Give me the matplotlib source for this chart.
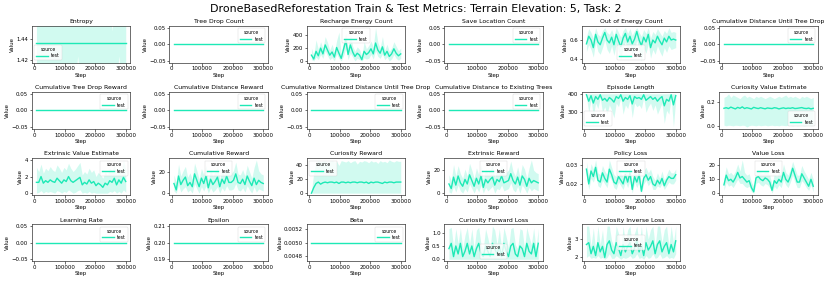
import matplotlib
matplotlib.use('Agg')
import matplotlib.pyplot as plt

# training steps (x axis)
steps = [7500, 15000, 22500, 30000, 37500, 45000, 52500, 60000, 67500, 75000,
         82500, 90000, 97500, 105000, 112500, 120000, 127500, 135000, 142500, 150000,
         157500, 165000, 172500, 180000, 187500, 195000, 202500, 210000, 217500, 225000,
         232500, 240000, 247500, 255000, 262500, 270000, 277500, 285000, 292500, 300000]
n = len(steps)

# flat metrics
zero_line = [0.0] * n
epsilon = [0.2] * n
beta = [0.005] * n

entropy = [1.436] * n
entropy_lo = [1.40, 1.40, 1.40, 1.40, 1.40, 1.40, 1.40, 1.40, 1.40, 1.40,
              1.40, 1.40, 1.40, 1.40, 1.40, 1.40, 1.40, 1.40, 1.424, 1.40,
              1.40, 1.40, 1.40, 1.40, 1.40, 1.40, 1.40, 1.40, 1.40, 1.40,
              1.40, 1.40, 1.40, 1.40, 1.40, 1.40, 1.424, 1.40, 1.40, 1.40]
entropy_hi = [1.47, 1.47, 1.47, 1.47, 1.47, 1.47, 1.47, 1.47, 1.47, 1.47,
              1.47, 1.47, 1.47, 1.47, 1.47, 1.47, 1.47, 1.47, 1.47, 1.47,
              1.47, 1.47, 1.47, 1.47, 1.47, 1.47, 1.47, 1.47, 1.47, 1.47,
              1.47, 1.47, 1.47, 1.447, 1.47, 1.47, 1.47, 1.47, 1.47, 1.47]

recharge = [90, 30, 150, 80, 200, 110, 250, 170, 90, 140, 60, 210, 120, 40, 180, 320, 100, 250, 140, 70,
            120, 90, 20, 150, 100, 130, 190, 110, 280, 170, 120, 220, 90, 150, 70, 110, 190, 120, 80, 110]
recharge_lo = [20, 0, 60, 20, 100, 40, 160, 80, 20, 50, 0, 110, 40, 0, 80, 200, 20, 120, 60, 0,
               40, 20, 0, 50, 30, 40, 100, 30, 160, 70, 40, 110, 20, 60, 0, 30, 100, 40, 10, 40]
recharge_hi = [200, 90, 330, 180, 300, 200, 380, 290, 170, 260, 140, 320, 450, 110, 300, 430, 200, 410, 230, 150,
               220, 180, 70, 300, 190, 240, 310, 220, 520, 290, 200, 380, 170, 260, 150, 200, 300, 230, 160, 200]

out_energy = [0.56, 0.64, 0.60, 0.52, 0.66, 0.58, 0.55, 0.62, 0.68, 0.60, 0.57, 0.63, 0.55, 0.66, 0.59, 0.53, 0.62, 0.67, 0.58, 0.64,
              0.56, 0.61, 0.69, 0.60, 0.54, 0.63, 0.58, 0.66, 0.52, 0.60, 0.57, 0.64, 0.59, 0.55, 0.62, 0.58, 0.64, 0.60, 0.61, 0.60]
out_energy_lo = [0.48, 0.55, 0.50, 0.42, 0.58, 0.48, 0.45, 0.52, 0.60, 0.50, 0.46, 0.54, 0.44, 0.56, 0.48, 0.40, 0.52, 0.58, 0.47, 0.55,
                 0.45, 0.50, 0.60, 0.48, 0.38, 0.52, 0.46, 0.56, 0.41, 0.50, 0.45, 0.54, 0.48, 0.43, 0.52, 0.47, 0.54, 0.50, 0.51, 0.52]
out_energy_hi = [0.64, 0.72, 0.68, 0.62, 0.73, 0.66, 0.64, 0.70, 0.73, 0.68, 0.66, 0.71, 0.64, 0.73, 0.68, 0.63, 0.70, 0.73, 0.67, 0.72,
                 0.65, 0.70, 0.73, 0.68, 0.64, 0.71, 0.67, 0.73, 0.62, 0.69, 0.66, 0.72, 0.68, 0.64, 0.70, 0.67, 0.73, 0.68, 0.69, 0.68]

episode_len = [395, 360, 390, 350, 385, 370, 395, 365, 375, 360, 380, 370, 355, 385, 375, 395, 360, 380, 370, 390,
               345, 385, 375, 380, 370, 395, 365, 375, 385, 370, 380, 360, 375, 385, 335, 370, 360, 395, 340, 390]
episode_len_lo = [380, 300, 370, 280, 350, 320, 380, 300, 330, 290, 340, 310, 270, 350, 330, 380, 290, 340, 320, 370,
                  270, 350, 330, 340, 320, 380, 300, 330, 350, 310, 340, 290, 320, 350, 240, 310, 290, 380, 220, 370]
episode_len_hi = [400, 400, 400, 400, 400, 400, 400, 400, 400, 400, 400, 400, 400, 400, 400, 400, 400, 400, 400, 400,
                  400, 400, 400, 400, 400, 400, 400, 400, 400, 400, 400, 400, 400, 400, 400, 400, 400, 400, 400, 400]

cur_value = [0.150, 0.155, 0.148, 0.160, 0.152, 0.145, 0.158, 0.150, 0.162, 0.148, 0.155, 0.150, 0.145, 0.158, 0.152, 0.148, 0.155, 0.150, 0.146, 0.153,
             0.150, 0.148, 0.155, 0.152, 0.145, 0.150, 0.154, 0.148, 0.152, 0.150, 0.155, 0.148, 0.150, 0.153, 0.156, 0.150, 0.148, 0.152, 0.145, 0.150]
cur_value_lo = [0.01, 0.005, 0.01, 0.008, 0.005, 0.01, 0.008, 0.006, 0.01, 0.008, -0.005, 0.006, 0.01, 0.008, 0.005, 0.01, 0.006, 0.008, 0.01, 0.005,
                0.008, 0.01, 0.006, 0.008, 0.005, 0.01, 0.008, 0.006, 0.01, 0.008, 0.005, 0.01, 0.006, 0.008, 0.01, 0.005, 0.008, 0.01, 0.006, 0.01]
cur_value_hi = [0.24, 0.25, 0.27, 0.24, 0.26, 0.25, 0.24, 0.23, 0.25, 0.26, 0.24, 0.25, 0.24, 0.23, 0.25, 0.24, 0.25, 0.24, 0.23, 0.24,
                0.25, 0.24, 0.23, 0.24, 0.25, 0.24, 0.25, 0.26, 0.24, 0.25, 0.24, 0.25, 0.24, 0.23, 0.25, 0.24, 0.25, 0.24, 0.23, 0.24]

ext_value = [1.3, 1.3, 2.0, 1.2, 1.5, 1.3, 1.6, 1.4, 1.3, 1.8, 1.5, 1.2, 1.6, 1.4, 2.0, 1.5, 1.3, 1.5, 1.7, 1.9,
             1.0, 1.3, 1.1, 1.6, 1.2, 1.4, 0.9, 1.2, 1.0, 0.7, 1.2, 1.0, 1.5, 1.3, 1.8, 1.0, 1.6, 1.2, 1.9, 1.4]
ext_value_lo = [0.0, 0.1, 0.3, 0.0, 0.2, 0.1, 0.2, 0.1, 0.0, 0.3, 0.2, 0.0, 0.2, 0.1, 0.4, 0.2, 0.0, 0.1, 0.3, 0.4,
                0.0, 0.1, 0.0, 0.2, 0.0, 0.1, 0.0, 0.0, 0.0, 0.0, 0.0, 0.0, 0.2, 0.1, 0.3, 0.0, 0.2, 0.0, 0.4, 0.1]
ext_value_hi = [3.1, 2.6, 3.5, 2.4, 3.0, 2.7, 3.2, 2.8, 2.6, 3.4, 3.0, 2.5, 3.1, 2.8, 3.6, 3.0, 2.6, 2.9, 3.3, 3.7,
                2.2, 2.6, 2.3, 3.0, 2.5, 2.8, 2.0, 2.5, 2.2, 1.8, 2.6, 2.2, 3.0, 2.7, 3.4, 2.2, 3.1, 2.5, 4.0, 2.8]

cum_reward = [9, 3, 16, 8, 12, 15, 7, 10, 6, 18, 12, 6, 14, 9, 16, 5, 13, 8, 11, 15,
              6, 13, 9, 16, 10, 10, 12, 18, 10, 9, 13, 8, 16, 11, 7, 14, 8, 12, 10, 9]
cum_reward_lo = [2, 0, 8, 1, 4, 6, 1, 3, 0, 9, 4, 0, 6, 2, 7, 0, 5, 1, 3, 6,
                 0, 5, 2, 7, 3, 3, 4, 9, 3, 2, 5, 1, 7, 3, 0, 6, 1, 4, 3, 2]
cum_reward_hi = [17, 10, 27, 16, 21, 25, 15, 19, 13, 28, 21, 13, 23, 17, 26, 12, 22, 16, 20, 25,
                 13, 22, 17, 26, 18, 18, 21, 29, 18, 17, 22, 16, 26, 20, 14, 24, 31, 21, 18, 17]

cur_reward = [0, 8, 14, 16, 13, 15, 16, 15, 16, 16, 15, 16, 14, 16, 16, 15, 16, 15, 16, 16,
              15, 16, 16, 15, 16, 14, 16, 15, 16, 16, 15, 14, 16, 15, 16, 16, 15, 16, 16, 16]
cur_reward_lo = [0, 0, 0, 0, 0, 0, 0, 0, 0, 0, 0, 0, 0, 0, 0, 0, 0, 0, 0, 0,
                 0, 0, 0, 0, 0, 0, 0, 0, 0, 0, 0, 0, 0, 0, 0, 0, 0, 0, 0, 0]
cur_reward_hi = [2, 30, 44, 47, 45, 46, 47, 44, 46, 47, 45, 46, 40, 47, 46, 45, 47, 44, 46, 47,
                 42, 46, 45, 47, 46, 44, 47, 45, 46, 43, 47, 45, 46, 44, 48, 46, 45, 47, 46, 46]

ext_reward = [8, 4, 14, 7, 15, 9, 6, 12, 8, 16, 11, 6, 13, 8, 15, 5, 12, 9, 12, 14,
              7, 12, 10, 15, 9, 10, 11, 17, 11, 8, 14, 7, 15, 12, 6, 13, 9, 11, 10, 9]
ext_reward_lo = [1, 0, 6, 1, 7, 2, 0, 4, 1, 8, 4, 0, 5, 1, 7, 0, 5, 2, 4, 6,
                 0, 4, 3, 7, 2, 3, 4, 9, 3, 1, 6, 0, 7, 4, 0, 5, 2, 4, 3, 2]
ext_reward_hi = [16, 11, 25, 15, 24, 17, 13, 21, 15, 26, 20, 13, 22, 16, 25, 12, 21, 17, 21, 24,
                 14, 20, 18, 24, 17, 18, 20, 28, 19, 15, 23, 14, 25, 21, 13, 22, 29, 20, 18, 17]

policy_loss = [0.028, 0.020, 0.027, 0.024, 0.029, 0.022, 0.021, 0.026, 0.023, 0.021, 0.028, 0.025, 0.021, 0.020, 0.024, 0.022, 0.020, 0.025, 0.021, 0.026,
               0.017, 0.024, 0.021, 0.025, 0.016, 0.023, 0.025, 0.022, 0.024, 0.020, 0.019, 0.022, 0.020, 0.023, 0.019, 0.022, 0.024, 0.023, 0.023, 0.025]
policy_loss_lo = [0.024, 0.017, 0.023, 0.021, 0.025, 0.019, 0.018, 0.022, 0.020, 0.018, 0.024, 0.022, 0.018, 0.017, 0.021, 0.019, 0.017, 0.021, 0.018, 0.022,
                  0.015, 0.021, 0.018, 0.021, 0.015, 0.020, 0.022, 0.019, 0.021, 0.017, 0.017, 0.019, 0.018, 0.020, 0.017, 0.019, 0.021, 0.020, 0.020, 0.022]
policy_loss_hi = [0.032, 0.024, 0.031, 0.028, 0.033, 0.026, 0.025, 0.030, 0.027, 0.025, 0.033, 0.029, 0.025, 0.024, 0.028, 0.026, 0.024, 0.029, 0.025, 0.030,
                  0.021, 0.028, 0.025, 0.029, 0.019, 0.027, 0.029, 0.026, 0.028, 0.024, 0.022, 0.026, 0.023, 0.027, 0.022, 0.025, 0.028, 0.026, 0.026, 0.028]

value_loss = [6, 13, 9, 10, 8, 11, 15, 11, 12, 10, 8, 9, 4, 1, 11, 12, 10, 9, 11, 10,
              8, 2, 9, 7, 10, 8, 15, 10, 8, 12, 18, 13, 8, 8, 14, 11, 8, 5, 10, 5]
value_loss_lo = [2, 8, 5, 6, 4, 7, 10, 7, 7, 5, 4, 5, 1, 0, 7, 8, 6, 5, 7, 6,
                 4, 0, 5, 3, 6, 4, 10, 6, 4, 8, 13, 8, 4, 4, 9, 7, 4, 2, 6, 1]
value_loss_hi = [11, 19, 14, 15, 13, 16, 21, 16, 24, 15, 13, 14, 8, 5, 16, 17, 15, 14, 16, 15,
                 13, 6, 14, 12, 15, 13, 21, 15, 13, 17, 23, 18, 13, 13, 20, 16, 13, 10, 15, 10]

fwd_loss = [0.40, 0.60, 0.10, 0.50, 0.20, 0.60, 0.10, 0.30, 0.60, 0.20, 0.50, 0.10, 0.40, 0.60, 0.20, 0.10, 0.50, 0.30, 0.10, 0.60,
            0.40, 0.20, 0.50, 0.10, 0.60, 0.30, 0.10, 0.50, 0.60, 0.20, 0.10, 0.50, 0.40, 0.10, 0.60, 0.30, 0.20, 0.60, 0.10, 0.60]
fwd_loss_lo = [0.0, 0.0, 0.0, 0.0, 0.0, 0.0, 0.0, 0.0, 0.0, 0.0, 0.0, 0.0, 0.0, 0.0, 0.0, 0.0, 0.0, 0.0, 0.0, 0.0,
               0.0, 0.0, 0.0, 0.0, 0.0, 0.0, 0.0, 0.0, 0.0, 0.0, 0.0, 0.0, 0.0, 0.0, 0.0, 0.0, 0.0, 0.0, 0.0, 0.0]
fwd_loss_hi = [1.15, 1.20, 0.45, 1.15, 0.60, 1.18, 0.40, 0.90, 1.20, 0.55, 1.15, 0.40, 1.10, 1.20, 0.55, 0.40, 1.15, 0.80, 0.40, 1.25,
               1.10, 0.55, 1.15, 0.40, 1.20, 0.85, 0.40, 1.15, 1.20, 0.55, 0.40, 1.15, 1.10, 0.40, 1.20, 0.85, 0.55, 1.18, 0.40, 1.15]

inv_loss = [2.7, 2.8, 2.2, 2.6, 2.1, 2.8, 2.3, 2.6, 2.0, 2.7, 2.9, 2.4, 2.2, 2.8, 2.5, 2.1, 2.7, 2.3, 2.6, 2.8,
            2.2, 2.5, 2.9, 2.3, 2.7, 2.1, 2.8, 2.4, 2.6, 2.9, 2.2, 2.7, 2.9, 2.3, 2.6, 2.8, 2.2, 2.7, 2.3, 2.9]
inv_loss_lo = [2.0, 2.1, 1.95, 2.0, 1.95, 2.1, 1.95, 2.0, 1.9, 2.0, 2.2, 1.95, 1.95, 2.1, 2.0, 1.9, 2.0, 1.95, 2.0, 2.1,
               1.95, 2.0, 2.2, 1.95, 2.0, 1.9, 2.1, 1.95, 2.0, 2.2, 1.95, 2.0, 2.2, 1.95, 2.0, 2.1, 1.95, 2.0, 1.95, 2.2]
inv_loss_hi = [3.7, 3.7, 2.6, 3.6, 2.4, 3.7, 2.7, 3.5, 2.3, 3.7, 3.7, 2.9, 2.6, 3.7, 3.3, 2.4, 3.7, 2.8, 3.5, 3.7,
               2.6, 3.3, 3.7, 2.7, 3.7, 2.4, 3.7, 3.0, 3.5, 3.7, 2.6, 3.7, 3.7, 2.8, 3.5, 3.7, 2.6, 3.7, 2.8, 3.7]

# (title, mean, lower, upper, legend location)
panels = [
    ('Entropy', entropy, entropy_lo, entropy_hi, 'lower left'),
    ('Tree Drop Count', zero_line, zero_line, zero_line, 'upper right'),
    ('Recharge Energy Count', recharge, recharge_lo, recharge_hi, 'upper center'),
    ('Save Location Count', zero_line, zero_line, zero_line, 'upper right'),
    ('Out of Energy Count', out_energy, out_energy_lo, out_energy_hi, 'lower center'),
    ('Cumulative Distance Until Tree Drop', zero_line, zero_line, zero_line, 'upper right'),
    ('Cumulative Tree Drop Reward', zero_line, zero_line, zero_line, 'upper right'),
    ('Cumulative Distance Reward', zero_line, zero_line, zero_line, 'upper right'),
    ('Cumulative Normalized Distance Until Tree Drop', zero_line, zero_line, zero_line, 'upper right'),
    ('Cumulative Distance to Existing Trees', zero_line, zero_line, zero_line, 'upper right'),
    ('Episode Length', episode_len, episode_len_lo, episode_len_hi, 'lower left'),
    ('Curiosity Value Estimate', cur_value, cur_value_lo, cur_value_hi, 'lower right'),
    ('Extrinsic Value Estimate', ext_value, ext_value_lo, ext_value_hi, 'upper right'),
    ('Cumulative Reward', cum_reward, cum_reward_lo, cum_reward_hi, 'upper center'),
    ('Curiosity Reward', cur_reward, cur_reward_lo, cur_reward_hi, 'upper left'),
    ('Extrinsic Reward', ext_reward, ext_reward_lo, ext_reward_hi, 'upper center'),
    ('Policy Loss', policy_loss, policy_loss_lo, policy_loss_hi, 'upper center'),
    ('Value Loss', value_loss, value_loss_lo, value_loss_hi, 'upper center'),
    ('Learning Rate', zero_line, zero_line, zero_line, 'upper right'),
    ('Epsilon', epsilon, epsilon, epsilon, 'upper right'),
    ('Beta', beta, beta, beta, 'upper right'),
    ('Curiosity Forward Loss', fwd_loss, fwd_loss_lo, fwd_loss_hi, 'lower center'),
    ('Curiosity Inverse Loss', inv_loss, inv_loss_lo, inv_loss_hi, 'center'),
]

color = '#1de9b6'

fig, axes = plt.subplots(4, 6, figsize=(8.31, 2.83), dpi=100)
fig.subplots_adjust(left=0.0385, right=0.984, top=0.908, bottom=0.078,
                    wspace=0.40, hspace=0.81)

for ax, (title, mean, lo, hi, loc) in zip(axes.flat, panels):
    ax.fill_between(steps, lo, hi, color=color, alpha=0.2, linewidth=0)
    ax.plot(steps, mean, color=color, linewidth=1.0, label='test')
    ax.set_title(title, fontsize=4.4, pad=2)
    ax.set_xlabel('Step', fontsize=3.9, labelpad=1)
    ax.set_ylabel('Value', fontsize=3.9, labelpad=1)
    ax.set_xticks([0, 100000, 200000, 300000])
    ax.tick_params(labelsize=3.9, length=1.8, width=0.4, pad=1)
    for sp in ax.spines.values():
        sp.set_linewidth(0.5)
        sp.set_color('#333333')
    leg = ax.legend(title='source', loc=loc, fontsize=3.3, title_fontsize=3.3,
                    handlelength=2.5, borderpad=0.4, labelspacing=0.3)
    leg.get_frame().set_linewidth(0.3)

# entropy band is wider than the axis
axes[0, 0].set_ylim(1.418, 1.4514)

axes[3, 5].axis('off')

fig.suptitle('DroneBasedReforestation Train & Test Metrics: Terrain Elevation: 5, Task: 2',
             fontsize=7.9, y=0.985)

fig.savefig('out.png', dpi=100)
